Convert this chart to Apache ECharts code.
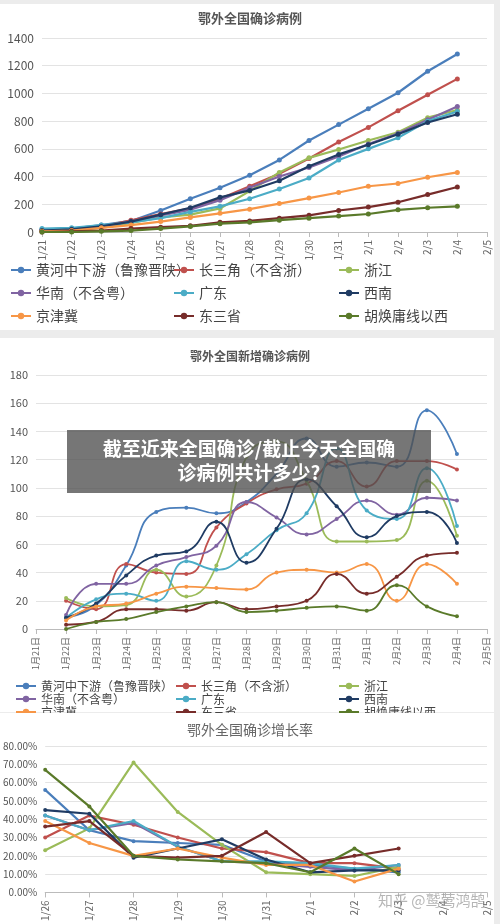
<!DOCTYPE html><html><head><meta charset="utf-8">
<script src="https://cdn.jsdelivr.net/npm/echarts@6/dist/echarts.min.js"></script>
<style>body{margin:0;background:#ececec}#c{width:500px;height:924px}</style></head><body><div id="c"></div>
<script>
const names=['黄河中下游（鲁豫晋陕）','长三角（不含浙）','浙江','华南（不含粤）','广东','西南','京津冀','东三省','胡焕庸线以西'];
const colors=['#4a7ebb','#c0504d','#9bbb59','#8064a2','#4bacc6','#1f3b63','#f79646','#772c2a','#5a7a2a'];
const cats1=['1/21','1/22','1/23','1/24','1/25','1/26','1/27','1/28','1/29','1/30','1/31','2/1','2/2','2/3','2/4','2/5'];
const cum_hh=[20,25,50,80,155,240,320,410,520,660,775,890,1005,1160,1285];
const cum_csj=[15,20,40,85,130,170,240,330,420,530,650,755,875,990,1105];
const cum_zj=[5,15,30,65,105,125,170,295,430,535,595,660,720,825,880];
const cum_hn=[10,20,40,75,120,160,230,320,400,465,545,635,710,810,905];
const cum_gd=[25,30,50,70,100,145,185,240,310,390,520,600,680,800,870];
const cum_xn=[10,20,40,75,125,175,250,300,370,475,560,630,705,790,850];
const cum_jjj=[5,10,30,50,75,105,135,165,205,245,285,330,350,395,430];
const cum_dss=[0,5,10,25,35,45,70,80,100,120,155,180,215,270,325];
const cum_hhy=[0,0,5,10,25,40,60,70,85,100,115,130,160,175,185];
const cats2=['1月21日','1月22日','1月23日','1月24日','1月25日','1月26日','1月27日','1月28日','1月29日','1月30日','1月31日','2月1日','2月2日','2月3日','2月4日','2月5日'];
const new_hh=[null,8,17,45,83,86,82,90,110,135,115,118,115,155,124];
const new_csj=[null,20,14,46,40,39,72,89,99,103,119,101,119,119,113];
const new_zj=[null,22,16,17,42,23,45,122,133,105,62,62,63,105,66];
const new_hn=[null,10,32,32,45,51,59,90,79,67,78,91,81,93,91];
const new_gd=[null,8,21,25,20,48,42,53,70,82,128,84,78,114,73];
const new_xn=[null,8,18,38,52,55,76,47,71,106,87,65,80,83,61];
const new_jjj=[null,6,16,18,25,30,29,28,40,42,40,46,20,46,32];
const new_dss=[null,3,5,14,14,13,19,14,16,20,39,25,37,52,54];
const new_hhy=[null,0,5,7,12,16,19,12,13,15,16,13,31,16,9];
const cats3=['1/26','1/27','1/28','1/29','1/30','1/31','2/1','2/2','2/3','2/4','2/5'];
const gr_hh=[56,34,28,27,26,17,15,13,11];
const gr_csj=[30,42,37,30,24,22,16,16,13];
const gr_zj=[23,35,71,44,26,11,10,9,14];
const gr_hn=[42,34,38,25,17,16,14,12,15];
const gr_gd=[42,34,39,25,17,17,16,13,15];
const gr_xn=[45,43,19,24,29,18,11,12,12];
const gr_jjj=[39,27,20,24,19,15,15,6,13];
const gr_dss=[36,39,20,19,20,33,16,20,24];
const gr_hhy=[67,47,20,18,17,16,11,24,10];
const D1=[cum_hh,cum_csj,cum_zj,cum_hn,cum_gd,cum_xn,cum_jjj,cum_dss,cum_hhy];
const D2=[new_hh,new_csj,new_zj,new_hn,new_gd,new_xn,new_jjj,new_dss,new_hhy];
const D3=[gr_hh,gr_csj,gr_zj,gr_hn,gr_gd,gr_xn,gr_jjj,gr_dss,gr_hhy];
const F='"Noto Sans CJK SC",sans-serif';
const grid=[{left:42,right:13,top:38,height:194},{left:36,right:13,top:375,height:254},{left:41,right:13,top:746,height:150,zlevel:1}];
const xs=[cats1,cats2,cats3].map((c,i)=>({gridIndex:i,type:'category',data:c,boundaryGap:false,zlevel:i==2?1:0,
 axisLine:{lineStyle:{color:'#bbb'}},axisTick:{show:true,lineStyle:{color:'#bbb'}},
 axisLabel:{rotate:90,color:'#666',fontSize:i==1?9:10,fontFamily:F,interval:0}}));
const ys=[{max:1400,interval:200,fs:12},{max:180,interval:20,fs:11},{max:80,interval:10,fs:10,pct:true}].map((y,i)=>({gridIndex:i,type:'value',min:0,max:y.max,interval:y.interval,zlevel:i==2?1:0,
 axisLine:{show:false},axisTick:{show:false},splitLine:{lineStyle:{color:'#e3e3e3'}},
 axisLabel:{color:'#555',fontSize:y.fs,fontFamily:F,formatter:y.pct?(v=>v.toFixed(2)+'%'):(v=>String(v))}}));
const series=[];
[D1,D2,D3].forEach((D,g)=>D.forEach((d,k)=>series.push({name:names[k],type:'line',xAxisIndex:g,yAxisIndex:g,data:d,smooth:g==1,zlevel:g==2?1:0,
 symbol:'circle',symbolSize:g==0?5:4,color:colors[k],lineStyle:{width:g==1?1.8:2.2},itemStyle:{color:colors[k]},z:10+k})));
const legends=[];
[[5,168,333],[10,170,333]].forEach((xsArr,g)=>xsArr.forEach((x,col)=>legends.push({orient:'vertical',left:x,top:g==0?258:675,
 itemGap:g==0?9:1,itemWidth:20,itemHeight:8,data:[names[col],names[3+col],names[6+col]],
 textStyle:{fontSize:g==0?14:12,color:'#444',fontFamily:F}})));
const opt={backgroundColor:'#ececec',animation:false,
 graphic:[
  {type:'rect',shape:{x:0,y:4,width:494,height:326},style:{fill:'#fff'},z:-10},
  {type:'rect',shape:{x:0,y:338,width:494,height:374},style:{fill:'#fff'},z:-10},
  {type:'rect',zlevel:1,shape:{x:0,y:713,width:494,height:211},style:{fill:'#fff'},z:-100},
  {type:'text',zlevel:1,left:'center',top:723,style:{text:'鄂外全国确诊增长率',fontSize:14,fill:'#666',fontFamily:F},z:5},
  {type:'rect',shape:{x:67,y:430,width:364,height:63},style:{fill:'rgba(80,80,80,0.78)'},z:100},
  {type:'text',x:249,y:461,style:{text:'截至近来全国确诊/截止今天全国确\n诊病例共计多少?',align:'center',verticalAlign:'middle',fontSize:19,fontWeight:'bold',fill:'#fff',lineHeight:24,fontFamily:F},z:101},
  {type:'text',zlevel:2,x:378,y:893,style:{text:'知乎 @鹫莺鸿鹄',fontSize:15,fill:'rgba(150,150,150,0.7)',fontFamily:F},z:120}
 ],
 title:[{text:'鄂外全国确诊病例',left:'center',top:7,textStyle:{fontSize:13,color:'#555',fontWeight:'bold',fontFamily:F}},
  {text:'鄂外全国新增确诊病例',left:'center',top:345,textStyle:{fontSize:12,color:'#555',fontWeight:'bold',fontFamily:F}}],
 grid,xAxis:xs,yAxis:ys,legend:legends,series};
const ch=echarts.init(document.getElementById('c'),null,{renderer:'canvas'});
ch.setOption(opt);
</script></body></html>
